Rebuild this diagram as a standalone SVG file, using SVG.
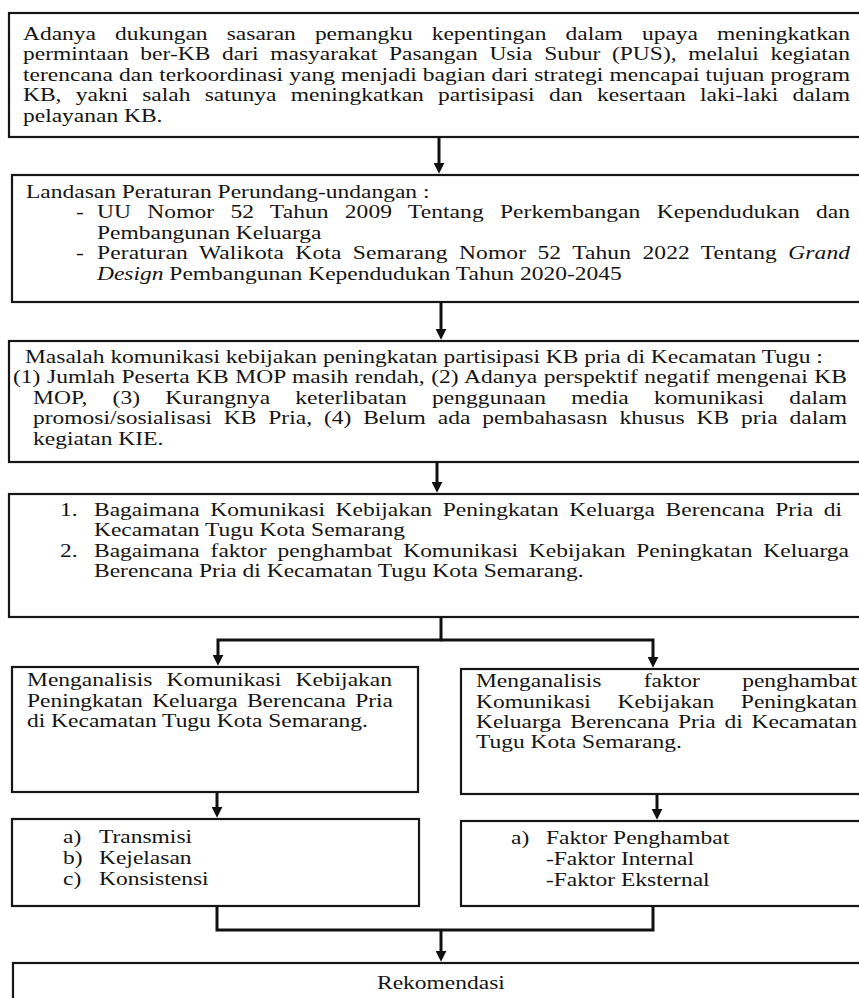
<svg xmlns="http://www.w3.org/2000/svg" width="859" height="998" viewBox="0 0 859 998">
<style>
.box{fill:#fff;stroke:#161616;stroke-width:2.2}
text{font-family:"Liberation Serif","Times New Roman",serif;font-size:18.5px;fill:#141414}
.i{font-style:italic}
.con{fill:none;stroke:#111;stroke-width:3}
.arr{marker-end:url(#ah)}
</style>
<defs>
<marker id="ah" viewBox="0 0 10 10" refX="2" refY="5" markerWidth="11" markerHeight="11" markerUnits="userSpaceOnUse" orient="auto">
<path d="M0,0 L10,5 L0,10 z" fill="#111"/>
</marker>
</defs>
<rect width="859" height="998" fill="#fff"/>
<g id="n1">
<rect class="box" x="9" y="13" width="860" height="124"/>
<g transform="scale(1.27 1)">
<text x="18.11" y="40" word-spacing="10.4" textLength="651.2" lengthAdjust="spacing">Adanya dukungan sasaran pemangku kepentingan dalam upaya meningkatkan</text>
<text x="18.11" y="60.5" word-spacing="4.6" textLength="651.2" lengthAdjust="spacing">permintaan ber-KB dari masyarakat Pasangan Usia Subur (PUS), melalui kegiatan</text>
<text x="18.11" y="81" word-spacing="0.2" textLength="651.2" lengthAdjust="spacing">terencana dan terkoordinasi yang menjadi bagian dari strategi mencapai tujuan program</text>
<text x="18.11" y="101.5" word-spacing="6.6" textLength="651.2" lengthAdjust="spacing">KB, yakni salah satunya meningkatkan partisipasi dan kesertaan laki-laki dalam</text>
<text x="18.11" y="122">pelayanan KB.</text>
</g>
</g>
<g id="n2">
<rect class="box" x="12" y="175" width="860" height="127"/>
<g transform="scale(1.27 1)">
<text x="20.47" y="198">Landasan Peraturan Perundang-undangan :</text>
<text x="59.84" y="218.5">-</text>
<text x="76.38" y="218.5" word-spacing="8.09" textLength="592.9" lengthAdjust="spacing">UU Nomor 52 Tahun 2009 Tentang Perkembangan Kependudukan dan</text>
<text x="76.38" y="239">Pembangunan Keluarga</text>
<text x="59.84" y="259.5">-</text>
<text x="76.38" y="259.5" word-spacing="4.28" textLength="592.9" lengthAdjust="spacing">Peraturan Walikota Kota Semarang Nomor 52 Tahun 2022 Tentang <tspan class="i">Grand</tspan></text>
<text x="76.38" y="280"><tspan class="i">Design</tspan> Pembangunan Kependudukan Tahun 2020-2045</text>
</g>
</g>
<g id="n3">
<rect class="box" x="9" y="341" width="860" height="121"/>
<g transform="scale(1.27 1)">
<text x="19.69" y="363">Masalah komunikasi kebijakan peningkatan partisipasi KB pria di Kecamatan Tugu :</text>
<text x="10.24" y="383.5" word-spacing="0.48" textLength="656.7" lengthAdjust="spacing">(1) Jumlah Peserta KB MOP masih rendah, (2) Adanya perspektif negatif mengenai KB</text>
<text x="25.98" y="404" word-spacing="15.2" textLength="640.9" lengthAdjust="spacing">MOP, (3) Kurangnya keterlibatan penggunaan media komunikasi dalam</text>
<text x="25.98" y="424.5" word-spacing="4.74" textLength="640.9" lengthAdjust="spacing">promosi/sosialisasi KB Pria, (4) Belum ada pembahasasn khusus KB pria dalam</text>
<text x="25.98" y="445">kegiatan KIE.</text>
</g>
</g>
<g id="n4">
<rect class="box" x="9" y="494" width="860" height="123"/>
<g transform="scale(1.27 1)">
<text x="47.24" y="516">1.</text>
<text x="74.02" y="516" word-spacing="3.77" textLength="589" lengthAdjust="spacing">Bagaimana Komunikasi Kebijakan Peningkatan Keluarga Berencana Pria di</text>
<text x="74.02" y="536.5">Kecamatan Tugu Kota Semarang</text>
<text x="47.24" y="557">2.</text>
<text x="74.02" y="557" word-spacing="3.86" textLength="594.5" lengthAdjust="spacing">Bagaimana faktor penghambat Komunikasi Kebijakan Peningkatan Keluarga</text>
<text x="74.02" y="577.5">Berencana Pria di Kecamatan Tugu Kota Semarang.</text>
</g>
</g>
<g id="n5">
<rect class="box" x="12" y="667" width="406" height="125"/>
<g transform="scale(1.27 1)">
<text x="21.26" y="686" word-spacing="6.5" textLength="287.4" lengthAdjust="spacing">Menganalisis Komunikasi Kebijakan</text>
<text x="21.26" y="707" word-spacing="2.74" textLength="288.2" lengthAdjust="spacing">Peningkatan Keluarga Berencana Pria</text>
<text x="21.26" y="727">di Kecamatan Tugu Kota Semarang.</text>
</g>
</g>
<g id="n6">
<rect class="box" x="461" y="669" width="420" height="125"/>
<g transform="scale(1.27 1)">
<text x="374.8" y="687" word-spacing="28.7" textLength="300" lengthAdjust="spacing">Menganalisis faktor penghambat</text>
<text x="374.8" y="708" word-spacing="16.4" textLength="300" lengthAdjust="spacing">Komunikasi Kebijakan Peningkatan</text>
<text x="374.8" y="728" word-spacing="2.31" textLength="300" lengthAdjust="spacing">Keluarga Berencana Pria di Kecamatan</text>
<text x="374.8" y="748">Tugu Kota Semarang.</text>
</g>
</g>
<g id="n7">
<rect class="box" x="12" y="819" width="407" height="87"/>
<g transform="scale(1.27 1)">
<text x="49.6" y="843">a)</text>
<text x="77.95" y="843">Transmisi</text>
<text x="49.6" y="864">b)</text>
<text x="77.95" y="864">Kejelasan</text>
<text x="49.6" y="885">c)</text>
<text x="77.95" y="885">Konsistensi</text>
</g>
</g>
<g id="n8">
<rect class="box" x="461" y="821" width="420" height="85"/>
<g transform="scale(1.27 1)">
<text x="402.4" y="844">a)</text>
<text x="429.9" y="844">Faktor Penghambat</text>
<text x="429.9" y="865">-Faktor Internal</text>
<text x="429.9" y="886">-Faktor Eksternal</text>
</g>
</g>
<g id="n9">
<rect class="box" x="13" y="963" width="860" height="60"/>
<g transform="scale(1.27 1)">
<text x="347.2" y="989" text-anchor="middle">Rekomendasi</text>
</g>
</g>
<g id="connectors">
<path class="con arr" d="M439,137 V165"/>
<path class="con arr" d="M441,302 V331"/>
<path class="con arr" d="M437,462 V484"/>
<path class="con arr" d="M441,617 V640 H218 V657"/>
<path class="con arr" d="M441,640 H653 V659"/>
<path class="con arr" d="M217,792 V809"/>
<path class="con arr" d="M657,794 V811"/>
<path class="con" d="M217,906 V930 H653 V906"/>
<path class="con arr" d="M441,930 V953"/>
</g>
</svg>
